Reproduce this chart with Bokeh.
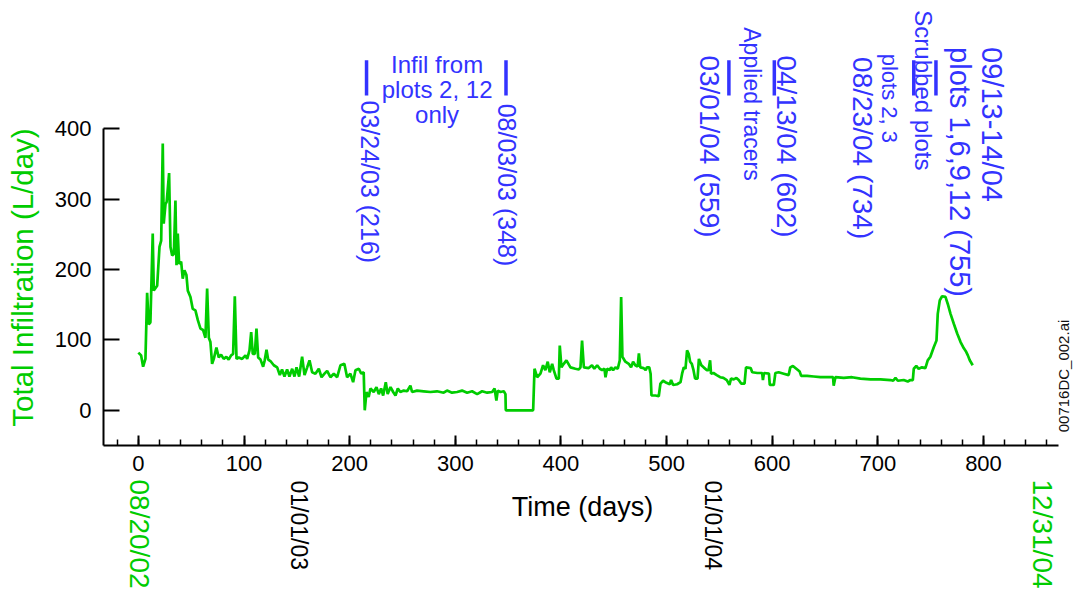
import math

from bokeh.embed import file_html
from bokeh.models import FixedTicker, Label, Range1d, SingleIntervalTicker
from bokeh.plotting import figure
from bokeh.resources import INLINE

# Daily total infiltration (L/day) against elapsed days since 08/20/02
days = [
    0, 2.6, 4.5, 6.7, 8.3, 9.8, 11.4, 13.6, 14.6, 17.8, 20, 21.6, 23.1, 24, 25.7, 26.8,
    29.1, 30.4, 32, 33.6, 35.1, 36.1, 37.3, 38.6, 40.5, 42, 43.6, 45.5, 46.8, 49.3, 51.5,
    54, 56.3, 58.8, 61.3, 63.5, 65.1, 66.7, 68.2, 69.8, 71.4, 73.9, 76.1, 78.3, 80.8, 83.3,
    85.5, 87.8, 89.7, 91.3, 92.9, 95, 98.2, 101.4, 103, 105.2, 106.8, 108.3, 110.2, 111.8,
    113.4, 115.6, 118.1, 119.6, 121.3, 122.9, 125, 128.2, 131.4, 133.9, 136, 138.3, 140.8,
    143, 145.6, 147.8, 149.7, 152.2, 155, 157.3, 159.8, 162, 164.5, 167.6, 170.8, 173.4,
    176.2, 178.7, 181.8, 185, 188.2, 191.3, 195, 197.6, 200.7, 203.3, 205.5, 208.7, 211,
    213.3, 214.3, 215.9, 218, 219.7, 222.8, 225.4, 227.6, 229.8, 231.7, 234.2, 236, 238.7,
    241.2, 243.4, 245.6, 248, 251.2, 254.4, 257.5, 259.1, 263.8, 270.1, 276.4, 282.7, 289,
    292.2, 296.9, 301.7, 306.4, 311.2, 315.9, 320.7, 325.4, 330.2, 334.9, 337.2, 338.9,
    340.2, 342.8, 345.9, 347.5, 347.8, 373.7, 375, 377.5, 380.6, 383.1, 385.3, 387.5, 389.4,
    391.7, 393.2, 395.8, 398, 398.9, 400.5, 402.7, 405.2, 409, 413.7, 416.9, 418.5, 420,
    421.7, 426.3, 429.4, 431.6, 434.3, 436.8, 439, 441.2, 442.2, 443.7, 446.2, 447.5, 449.4,
    451.6, 453.8, 455.7, 457, 458.2, 461, 464.2, 466.4, 468.3, 470.4, 472.6, 473.8, 475.1,
    478.3, 480.2, 481.4, 483.6, 484.9, 485.7, 489.5, 492.6, 494.2, 496.7, 499.9, 503, 504.3,
    506.2, 510, 513.2, 514.7, 516.3, 517.9, 519.4, 521, 522.3, 523.9, 525.5, 527, 529.3,
    530.6, 532.9, 535.1, 538.2, 539.7, 541.2, 542.1, 544.4, 547.5, 550.7, 553.8, 557, 559.5,
    561, 563.6, 566.1, 568.3, 570.6, 573.8, 575.2, 579.6, 581.1, 585.9, 590.5, 591.2, 592.2,
    596.9, 597.7, 601.5, 603, 606.1, 610.9, 615.6, 617.1, 619.6, 622.8, 626, 627.4, 633,
    639.3, 645.6, 655.2, 657.6, 658.2, 659.8, 667.7, 675.6, 683.5, 693, 702.5, 712, 714.5,
    716.7, 718.9, 724.5, 728.3, 730.8, 733.1, 734, 736.4, 738.6, 741.8, 745, 747.2, 749.7,
    753, 755.5, 756.7, 758.6, 760.8, 764, 766.2, 768.8, 771.9, 775.1, 778.3, 781.4, 783.6,
    785.2, 787, 789.8,
]
infil = [
    82, 78, 62, 73, 167, 122, 125, 251, 170, 177, 232, 241, 379, 265, 293, 296,
    337, 232, 220, 222, 298, 206, 251, 208, 211, 187, 199, 192, 170, 161, 144,
    142, 128, 116, 114, 103, 173, 103, 97, 66, 73, 89, 75, 79, 73, 76,
    72, 78, 80, 162, 73, 75, 73, 78, 73, 85, 111, 80, 80, 116,
    75, 72, 62, 71, 86, 72, 70, 64, 61, 50, 58, 48, 58,
    48, 59, 48, 61, 48, 76, 50, 61, 71, 54, 52, 59, 47,
    52, 56, 47, 52, 47, 64, 66, 47, 52, 40, 57, 59, 52,
    54, 0, 26, 19, 31, 26, 33, 23, 31, 21, 40, 23, 33,
    26, 21, 31, 26, 28, 27, 35, 26, 28, 27, 26, 27, 25,
    28, 25, 26, 28, 25, 27, 23, 27, 25, 26, 31, 14,
    28, 26, 27, 23, 0, 0, 59, 47, 52, 64, 57, 69, 54,
    66, 57, 45, 45, 92, 61, 66, 71, 61, 59, 58, 61, 99,
    61, 60, 64, 59, 64, 59, 57, 59, 47, 59, 57, 61, 57,
    61, 59, 71, 161, 76, 69, 66, 61, 69, 64, 62, 81, 61,
    60, 57, 61, 61, 52, 21, 21, 20, 38, 42, 39, 37, 43,
    36, 37, 40, 52, 61, 59, 85, 80, 69, 66, 57, 45, 45,
    73, 64, 61, 57, 57, 71, 52, 53, 50, 47, 46, 43, 36,
    45, 44, 46, 43, 38, 38, 61, 60, 54, 53, 53, 43, 53,
    52, 36, 36, 53, 54, 52, 50, 61, 63, 59, 55, 49, 49,
    48, 47, 47, 47, 35, 47, 46, 47, 45, 44, 44, 43, 42,
    46, 42, 43, 41, 43, 43, 59, 63, 59, 61, 60, 71, 76,
    90, 99, 137, 156, 162, 161, 151, 137, 123, 109, 97, 88, 83,
    78, 71, 64,
]

# Field events (elapsed day of each dated note)
event_days = [216, 348, 559, 602, 734, 755]

y_ticks = [0, 100, 200, 300, 400]

GREEN = "#00CC00"
BLUE = "#3333FF"
FONT = "Liberation Sans"

# The frame spans the whole canvas; the axes sit at fixed data locations
# so that titles and dates around them are ordinary in-frame annotations.
p = figure(
    width=1073, height=590,
    x_range=Range1d(-130.5, 885.2), y_range=Range1d(-255.9, 582),
    min_border_left=0, min_border_right=0, min_border_top=0, min_border_bottom=0,
    output_backend="svg", toolbar_location=None,
)
p.outline_line_color = None
p.grid.visible = False
p.background_fill_color = "white"
p.border_fill_color = "white"

xa = p.xaxis[0]
xa.fixed_location = -50
xa.ticker = SingleIntervalTicker(interval=100, num_minor_ticks=5)
xa.bounds = (-33, 871)
xa.major_tick_in = 10
xa.major_tick_out = 0
xa.minor_tick_in = 6
xa.minor_tick_out = 0
xa.major_label_standoff = 10

ya = p.yaxis[0]
ya.fixed_location = -33
ya.ticker = FixedTicker(ticks=y_ticks, minor_ticks=[])
ya.bounds = (-50, 400)
ya.major_tick_in = 16
ya.major_tick_out = 0
ya.major_label_standoff = 12

for ax in (xa, ya):
    ax.axis_line_width = 2
    ax.axis_line_color = "black"
    ax.major_tick_line_width = 2
    ax.major_tick_line_color = "black"
    ax.minor_tick_line_width = 1.5
    ax.minor_tick_line_color = "black" if ax is xa else None
    ax.major_label_text_font = FONT
    ax.major_label_text_font_size = "22px"
    ax.major_label_text_color = "black"

# Infiltration series
p.line(days, infil, line_color=GREEN, line_width=2.7)

# Event markers
p.segment(x0=event_days, y0=[447] * len(event_days), x1=event_days, y1=[497] * len(event_days),
          line_color=BLUE, line_width=3.5)


def note(x, y, text, size, color=BLUE, angle=-math.pi / 2, align="left", baseline="middle"):
    p.add_layout(Label(
        x=x, y=y, text=text, angle=angle,
        text_align=align, text_baseline=baseline,
        text_font=FONT, text_font_size=size, text_color=color,
    ))


# Axis titles
note(420.4, -138, "Time (days)", "27px", color="black", angle=0, align="center")
note(-109.5, 188.6, "Total Infiltration (L/day)", "29.5px", color=GREEN, angle=math.pi / 2, align="center")

# Event notes
note(219.7, 440, "03/24/03 (216)", "25px")
note(349.1, 435.5, "08/03/03 (348)", "25px")
p.add_layout(Label(
    x=282.8, y=510, text="Infil from\nplots 2, 12\nonly", angle=0,
    text_align="center", text_baseline="top", text_line_height=0.93,
    text_font=FONT, text_font_size="24px", text_color=BLUE,
))
note(540.6, 504, "03/01/04 (559)", "28px")
note(581.0, 544, "Applied tracers", "23px")
note(613.2, 504, "04/13/04 (602)", "28px")
note(685.7, 501.6, "08/23/04 (734)", "28px")
note(711.0, 506.5, "plots 2, 3", "22px")
note(743.5, 568, "Scrubbed plots", "24px")
note(778.2, 515.8, "plots 1,6,9,12 (755)", "29px")
note(808.2, 515.8, "09/13-14/04", "29px")

# Calendar dates under the time axis
note(1.0, -98.3, "08/20/02", "28px", color=GREEN)
note(152.5, -99.7, "01/01/03", "23px", color="black")
note(543.7, -99.7, "01/01/04", "23px", color="black")
note(856.1, -98.3, "12/31/04", "28px", color=GREEN)

# File tag on the right edge
note(875.7, -31.2, "00716DC_002.ai", "15px", color="#111111", angle=math.pi / 2)

open("out.html", "w").write(file_html(p, INLINE))
